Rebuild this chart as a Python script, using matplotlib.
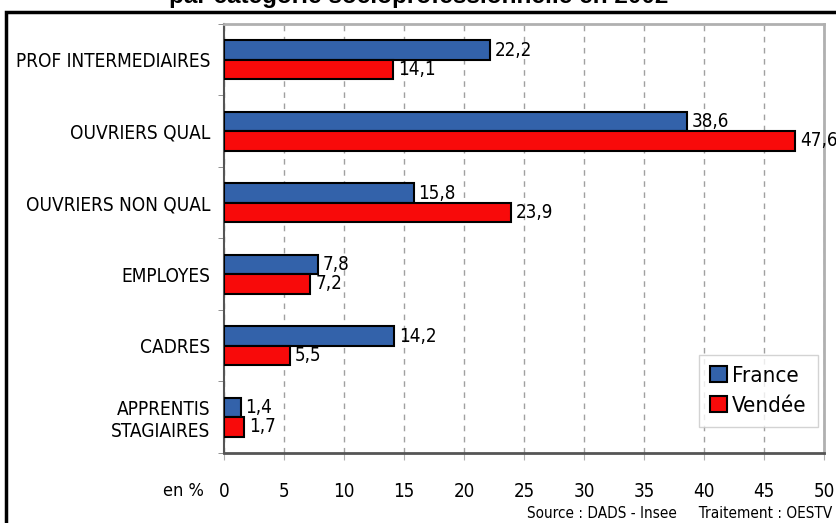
import numpy as np
import matplotlib.pyplot as plt
from matplotlib.patches import Rectangle

plt.rcParams['font.family'] = ['DejaVu Sans']
plt.rcParams['font.stretch'] = 'condensed'

categories = ["PROF INTERMEDIAIRES", "OUVRIERS QUAL", "OUVRIERS NON QUAL",
              "EMPLOYES", "CADRES", "APPRENTIS\nSTAGIAIRES"]
france = [22.2, 38.6, 15.8, 7.8, 14.2, 1.4]
vendee = [14.1, 47.6, 23.9, 7.2, 5.5, 1.7]
xticks = [0, 5, 10, 15, 20, 25, 30, 35, 40, 45, 50]

blue = '#3362AA'
red = '#F80A0A'

fig = plt.figure(figsize=(8.37, 5.23), dpi=100)
ax = fig.add_axes([224/837, 1-453/523, 600/837, 429/523])

y = np.arange(len(categories))
h = 0.27
ax.barh(y - h/2, france, height=h, color=blue, edgecolor='black', linewidth=1.5, label='France', zorder=3)
ax.barh(y + h/2, vendee, height=h, color=red, edgecolor='black', linewidth=1.5, label='Vendée', zorder=3)

for i in range(len(categories)):
    ax.text(france[i] + 0.4, y[i] - h/2, f"{france[i]:.1f}".replace('.', ','),
            va='center', ha='left', fontsize=13.5, zorder=4)
    ax.text(vendee[i] + 0.4, y[i] + h/2, f"{vendee[i]:.1f}".replace('.', ','),
            va='center', ha='left', fontsize=13.5, zorder=4)

ax.set_ylim(len(categories) - 0.5, -0.5)
ax.set_xlim(0, 50)
ax.set_xticks(xticks)
ax.set_xticklabels([str(v) for v in xticks], fontsize=13.5)
ax.set_yticks(y)
ax.set_yticklabels(categories, fontsize=13.7)
ax.set_yticks(np.arange(len(categories) + 1) - 0.5, minor=True)
ax.tick_params(axis='y', which='major', length=0, pad=10)
ax.tick_params(axis='y', which='minor', length=4, color='#808080')
ax.tick_params(axis='x', length=5, color='#b0b0b0', pad=16)
ax.xaxis.grid(True, linestyle=(0, (4, 4)), color='#a0a0a0', linewidth=1)

ax.spines['left'].set_color('#555555')
ax.spines['bottom'].set_color('#555555')
ax.spines['left'].set_linewidth(1.5)
ax.spines['bottom'].set_linewidth(2)
ax.spines['top'].set_color('#b0b0b0')
ax.spines['right'].set_color('#b0b0b0')
ax.spines['top'].set_linewidth(2)
ax.spines['right'].set_linewidth(2)

leg = ax.legend(loc='lower right', bbox_to_anchor=(594/600, 26/429), borderaxespad=0,
                fontsize=16, frameon=True, fancybox=False, edgecolor='#c8c8c8',
                handlelength=0.75, handleheight=0.75, handletextpad=0.25,
                borderpad=0.5, labelspacing=0.45)
leg.get_frame().set_linewidth(1)

fig.text(183/837, 1-491/523, "en %", fontsize=13, ha='center', va='center')
fig.text(832/837, 1-513/523, "Source : DADS - Insee     Traitement : OESTV",
         fontsize=11, ha='right', va='center')
fig.text(0.5, 1 + 3/523, "par catégorie socioprofessionnelle en 2002",
         fontsize=17.5, fontweight='bold', ha='center', va='center',
         family=['Liberation Sans', 'DejaVu Sans'], fontstretch='normal')

# cadre extérieur
fig.patches.append(Rectangle((6/837, -0.1), 1.2, 1 - 12/523 + 0.1,
                             transform=fig.transFigure, fill=False,
                             edgecolor='black', linewidth=2.5))

fig.savefig('out.png', dpi=100)
